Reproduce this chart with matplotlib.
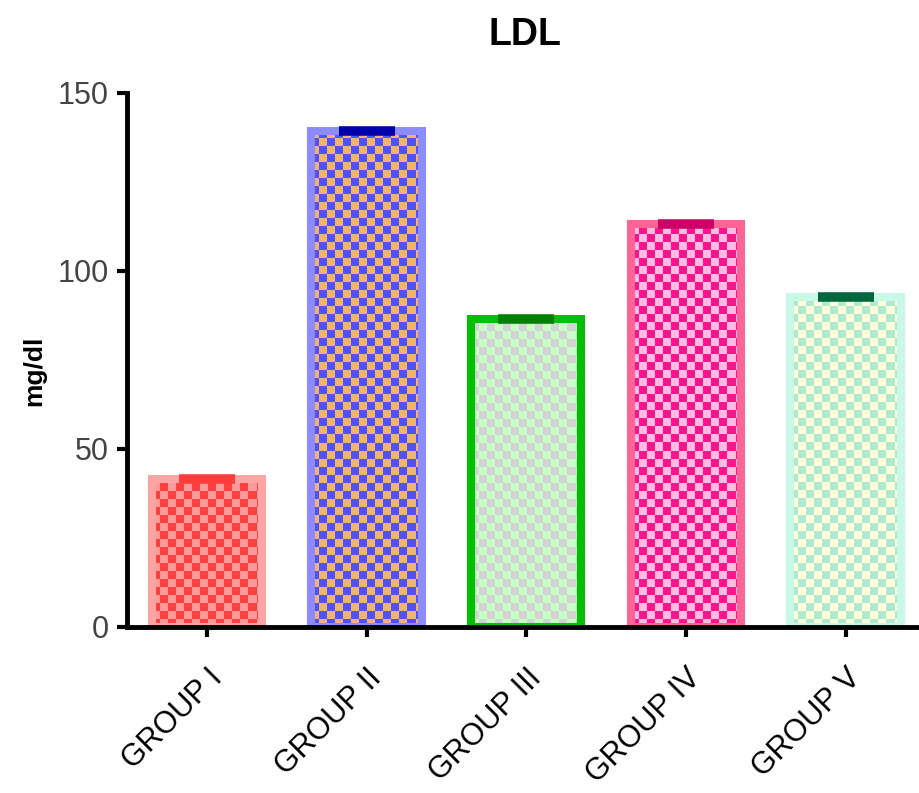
import numpy as np
import matplotlib
matplotlib.use("Agg")
import matplotlib.pyplot as plt
from matplotlib.colors import to_rgb

plt.rcParams['font.family'] = ['Liberation Sans', 'DejaVu Sans']

groups = ['GROUP I', 'GROUP II', 'GROUP III', 'GROUP IV', 'GROUP V']
ldl_mean = [41.5, 139.4, 86.5, 113.3, 92.7]
ldl_sem = [0.5, 0.6, 0.5, 0.6, 0.5]

edge_colors = ['#FFA3A3', '#8C8CFF', '#00C000', '#FF6496', '#C8F8E6']
check_dark = ['#FF4040', '#5050FF', '#C8FFC8', '#FF148C', '#B0E8D0']
check_light = ['#FF9A9A', '#F0B46E', '#D3D3D3', '#FFBEE1', '#FFFFDC']
err_colors = ['#FF3B3B', '#0000AA', '#008000', '#CC0066', '#00663C']

# checker cell size in data units (about 8 px each way)
CELL_X = 0.050
CELL_Y = 2.25


def checker_fill(ax, patch, c1, c2):
    x0, y0 = patch.get_x(), patch.get_y()
    w, h = patch.get_width(), patch.get_height()
    nx = int(np.ceil(w / CELL_X))
    ny = int(np.ceil(h / CELL_Y))
    ii, jj = np.meshgrid(np.arange(nx), np.arange(ny))
    mask = (ii + jj) % 2 == 0
    img = np.zeros((ny, nx, 3))
    img[mask] = to_rgb(c1)
    img[~mask] = to_rgb(c2)
    im = ax.imshow(img, origin='lower', aspect='auto', interpolation='nearest',
                   extent=(x0, x0 + nx * CELL_X, y0, y0 + ny * CELL_Y), zorder=1)
    im.set_clip_path(patch)


fig = plt.figure(figsize=(9.19, 7.93), dpi=100)
ax = fig.add_axes([127 / 919, 166 / 793, 792 / 919, 534 / 793])

x = np.arange(len(groups))
bars = ax.bar(x, ldl_mean, width=0.69, facecolor='none', edgecolor=edge_colors,
              linewidth=5.8, zorder=2)
for b, c1, c2 in zip(bars, check_dark, check_light):
    checker_fill(ax, b, c1, c2)

for xi, m, s, c in zip(x, ldl_mean, ldl_sem, err_colors):
    ax.errorbar(xi, m, yerr=s, fmt='none', ecolor=c, elinewidth=3,
                capsize=20, capthick=4, zorder=3)

ax.set_xlim(-0.5, 4.46)
ax.set_ylim(0, 150)
ax.set_yticks([0, 50, 100, 150])

for side in ['top', 'right']:
    ax.spines[side].set_visible(False)
for side in ['left', 'bottom']:
    ax.spines[side].set_linewidth(3.5)
    ax.spines[side].set_zorder(4)
ax.spines['left'].set_bounds(0, 150)

ax.tick_params(axis='y', length=7, width=3, pad=6, labelsize=22, labelcolor='#444444')
ax.tick_params(axis='x', length=7, width=3, pad=19, labelsize=22)
ax.set_xticks(x)
ax.set_xticklabels(groups, rotation=45, ha='right', va='top', rotation_mode='anchor')

ax.set_ylabel('mg/dl', fontsize=19, fontweight='bold')
ax.yaxis.set_label_coords(-0.102, 0.48)
fig.text(525 / 919, 1 - 35 / 793, 'LDL', ha='center', va='center',
         fontsize=27, fontweight='bold')

plt.savefig('out.png', dpi=100)
plt.close()
